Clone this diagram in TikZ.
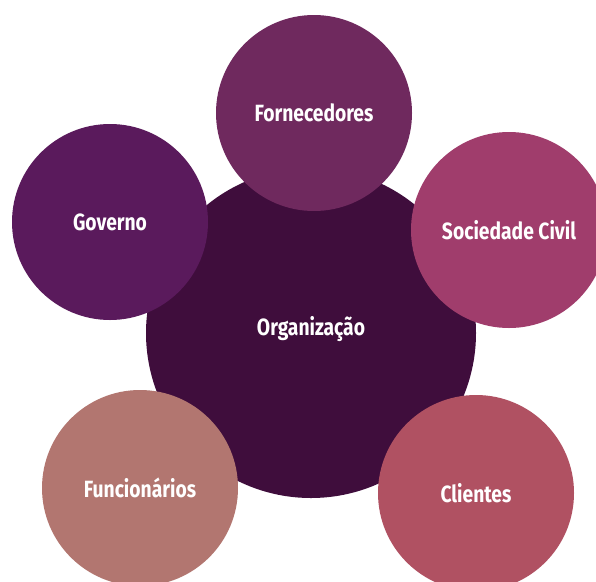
\documentclass[tikz,border=0pt]{standalone}
\usepackage{fontspec}
\usepackage{tikz}
\usepackage{xcolor}
\newfontfamily\labelfont[FakeStretch=0.82]{Fira Sans}
\definecolor{orgcol}{HTML}{3F0D3C}
\definecolor{forcol}{HTML}{6F295E}
\definecolor{govcol}{HTML}{5A1A5C}
\definecolor{soccol}{HTML}{A03D6C}
\definecolor{funcol}{HTML}{B27670}
\definecolor{clicol}{HTML}{B05162}

\tikzset{
  ator/.style={circle,inner sep=0pt,minimum size=196pt,text=white,
    font=\labelfont\bfseries\fontsize{23.5}{26}\selectfont}
}

\begin{document}
\begin{tikzpicture}[x=1pt,y=-1pt]
\useasboundingbox (0,0) rectangle (596,581);
\clip (0,0) rectangle (596,581);
\node[ator,fill=orgcol,minimum size=330pt] (org) at (311,333) {};
\node[ator,minimum size=0pt] (orglabel) at (311,329) {Organização};
\node[ator,fill=forcol] (forn) at (314,113) {Fornecedores};
\node[ator,fill=govcol] (gov) at (110,222) {Governo};
\node[ator,fill=soccol] (soc) at (509,230) {Sociedade Civil};
\node[ator,fill=funcol] (func) at (140,488) {Funcionários};
\node[ator,fill=clicol] (cli) at (476,493) {Clientes};
\end{tikzpicture}
\end{document}
